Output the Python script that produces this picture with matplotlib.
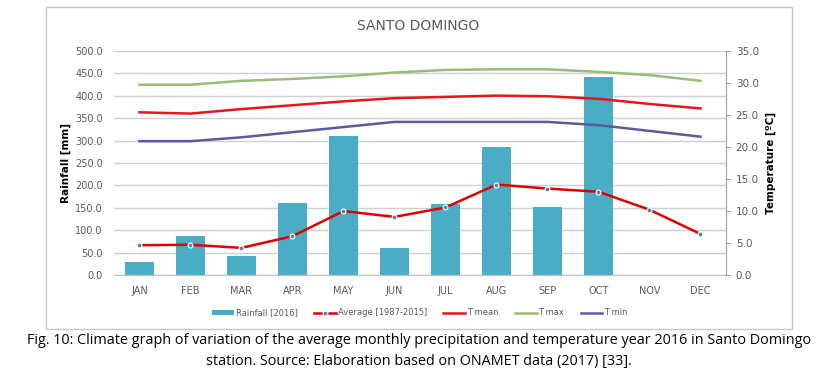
import numpy as np
import matplotlib.pyplot as plt
from matplotlib.patches import Rectangle

months = ["JAN", "FEB", "MAR", "APR", "MAY", "JUN", "JUL", "AUG", "SEP", "OCT", "NOV", "DEC"]
rain_2016 = [30, 87, 44, 162, 309, 61, 159, 285, 151, 442, np.nan, np.nan]
rain_avg = [67, 68, 61, 87, 143, 130, 151, 202, 193, 186, 146, 92]
t_mean = [25.4, 25.2, 25.9, 26.5, 27.1, 27.6, 27.8, 28.0, 27.9, 27.5, 26.7, 26.0]
t_max = [29.7, 29.7, 30.3, 30.6, 31.0, 31.6, 32.0, 32.1, 32.1, 31.7, 31.2, 30.3]
t_min = [20.9, 20.9, 21.5, 22.3, 23.1, 23.9, 23.9, 23.9, 23.9, 23.4, 22.5, 21.6]

grey = "#595959"
fig = plt.figure(figsize=(8.3, 3.78), dpi=100)
ax = fig.add_axes([0.1373, 0.2717, 0.7374, 0.5942])
ax2 = ax.twinx()

x = np.arange(len(months))
ax.set_axisbelow(True)
ax.grid(axis="y", color="#d0d0d0", lw=1)
b = ax.bar(x, rain_2016, width=0.57, color="#4bacc6", label="Rainfall [2016]")
ax.plot(x, rain_avg, color="#e00000", lw=1.8, marker="o", ms=3.5,
        mfc="#4f81bd", mec="white", mew=0.8, label="Average [1987-2015]", zorder=5)

l1, = ax2.plot(x, t_mean, color="#e8141e", lw=1.8, label="T mean")
l2, = ax2.plot(x, t_max, color="#9bbb79", lw=1.8, label="T max")
l3, = ax2.plot(x, t_min, color="#5a5a9c", lw=1.8, label="T min")

ax.set_xlim(-0.5, 11.5)
ax.set_ylim(0, 500)
ax.set_yticks(np.arange(0, 501, 50))
ax.set_yticklabels([f"{v:.1f}" for v in np.arange(0, 501, 50)])
ax2.set_ylim(0, 35)
ax2.set_yticks(np.arange(0, 36, 5))
ax2.set_yticklabels([f"{v:.1f}" for v in np.arange(0, 36, 5)])
ax.set_xticks(x)
ax.set_xticklabels(months)

for s in ["top", "left", "right"]:
    ax.spines[s].set_visible(False)
    ax2.spines[s].set_visible(False)
ax2.spines["right"].set_visible(True)
ax2.spines["right"].set_color("#a0a0a0")
ax.spines["bottom"].set_color("#c0c0c0")
ax2.spines["bottom"].set_visible(False)

ax.tick_params(axis="y", length=0, labelsize=7, labelcolor=grey, pad=8)
ax.tick_params(axis="x", length=0, labelsize=7, labelcolor=grey, pad=8)
ax2.tick_params(axis="y", length=3, color="#a0a0a0", labelsize=7.5, labelcolor=grey, pad=4)

ax.set_ylabel("Rainfall [mm]", fontsize=7.5, fontweight="bold", labelpad=3)
ax2.set_ylabel("Temperature [ºC]", fontsize=7.5, fontweight="bold", labelpad=5)

fig.text(0.504, 0.931, "SANTO DOMINGO", ha="center", va="center", fontsize=10, color=grey)

handles = [b, ax.lines[0], l1, l2, l3]
fig.legend(handles, [h.get_label() for h in handles], loc="center",
           bbox_to_anchor=(0.506, 0.172), ncol=5, frameon=False, fontsize=6,
           handlelength=2.6, columnspacing=2.0, handletextpad=0.2,
           labelcolor=grey)

fig.patches.append(Rectangle((45.5 / 830, 1 - 329 / 378), (792 - 45.5) / 830, (329 - 7) / 378,
                             transform=fig.transFigure, fill=False, ec="#c8c8c8", lw=1))

fig.text(0.505, 1 - 341 / 378,
         "Fig. 10: Climate graph of variation of the average monthly precipitation and temperature year 2016 in Santo Domingo",
         ha="center", va="center", fontsize=10.4, family="Open Sans")
fig.text(0.505, 1 - 362 / 378,
         "station. Source: Elaboration based on ONAMET data (2017) [33].",
         ha="center", va="center", fontsize=10.4, family="Open Sans")

fig.savefig("out.png", dpi=100)
